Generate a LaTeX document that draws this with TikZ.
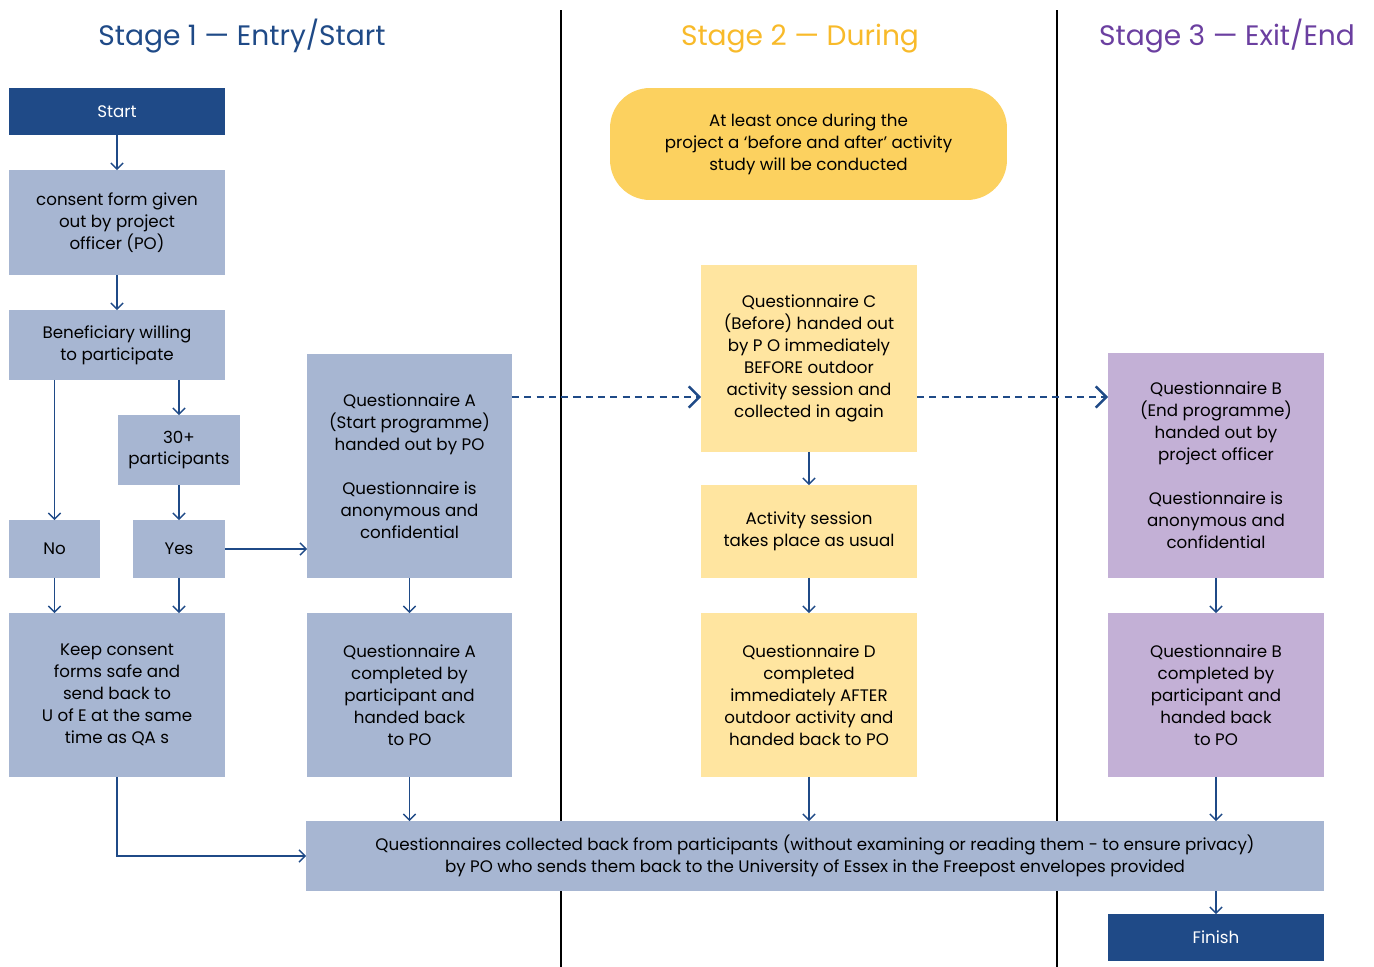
\documentclass[tikz,border=0pt]{standalone}
\usepackage{fontspec}
\setmainfont{Poppins}
\usepackage{tikz}
\usetikzlibrary{arrows.meta}
\definecolor{navy}{HTML}{1F4A87}
\definecolor{paleblue}{HTML}{A7B6D2}
\definecolor{gold}{HTML}{FCD15F}
\definecolor{paleyellow}{HTML}{FFE5A0}
\definecolor{lilac}{HTML}{C3B0D6}
\definecolor{stagetwo}{HTML}{F8BA2A}
\definecolor{stagethree}{HTML}{6B3FA0}
\begin{document}
\begin{tikzpicture}[x=0.02cm, y=-0.02cm,
    box/.style = {fill=paleblue, align=center, inner sep=2pt, outer sep=0pt,
                  font=\fontsize{9.5}{12.5}\selectfont},
    endbox/.style = {box, fill=navy, text=white},
    during/.style = {box, fill=paleyellow},
    exit/.style = {box, fill=lilac},
    stagetitle/.style = {anchor=base, font=\fontsize{16}{18}\selectfont},
    link/.style = {draw=navy, line width=0.75pt, -{Straight Barb[length=3.5pt,width=7pt]}},
    carry/.style = {draw=navy, line width=1.6pt, dash pattern=on 4pt off 3pt,
                    -{Straight Barb[length=6pt,width=12pt,line width=1.4pt]}}]
\useasboundingbox (0,0) rectangle (1374,967);
\draw[line width=1.1pt] (561,10) -- (561,967);
\draw[line width=1.1pt] (1057,10) -- (1057,967);
\node[stagetitle, text=navy] (s1) at (242,45) {Stage 1 — Entry/Start};
\node[stagetitle, text=stagetwo] (s2) at (800,45) {Stage 2 — During};
\node[stagetitle, text=stagethree] (s3) at (1227,45) {Stage 3 — Exit/End};

\node[endbox, minimum width=4.32cm, minimum height=0.94cm] (start) at (117,111.5) {Start};
\node[box, minimum width=4.32cm, minimum height=2.10cm] (consent) at (117,222.5) {consent form given\\out by project\\officer (PO)};
\node[box, minimum width=4.32cm, minimum height=1.40cm] (willing) at (117,345) {Beneficiary willing\\to participate};
\node[box, minimum width=2.44cm, minimum height=1.40cm] (thirty) at (179,450) {30+\\participants};
\node[box, minimum width=1.82cm, minimum height=1.16cm] (no) at (54.5,549) {No};
\node[box, minimum width=1.84cm, minimum height=1.16cm] (yes) at (179,549) {Yes};
\node[box, minimum width=4.32cm, minimum height=3.28cm] (keep) at (117,695) {Keep consent\\forms safe and\\send back to\\U of E at the same\\time as QA s};
\node[box, minimum width=4.10cm, minimum height=4.48cm] (qa) at (409.5,466) {Questionnaire A\\(Start programme)\\handed out by PO\\[12.5pt]Questionnaire is\\anonymous and\\confidential};
\node[box, minimum width=4.10cm, minimum height=3.28cm] (qadone) at (409.5,695) {Questionnaire A\\completed by\\participant and\\handed back\\to PO};

\node[box, fill=gold, rounded corners=0.8cm, minimum width=7.94cm, minimum height=2.24cm] (once) at (808.5,144) {At least once during the\\project a ‘before and after’ activity\\study will be conducted};
\node[during, minimum width=4.32cm, minimum height=3.74cm] (qc) at (809,358.5) {Questionnaire C\\(Before) handed out\\by P O immediately\\BEFORE outdoor\\activity session and\\collected in again};
\node[during, minimum width=4.32cm, minimum height=1.86cm] (session) at (809,531.5) {Activity session\\takes place as usual};
\node[during, minimum width=4.32cm, minimum height=3.28cm] (qd) at (809,695) {Questionnaire D\\completed\\immediately AFTER\\outdoor activity and\\handed back to PO};

\node[exit, minimum width=4.32cm, minimum height=4.50cm] (qb) at (1216,465.5) {Questionnaire B\\(End programme)\\handed out by\\project officer\\[12.5pt]Questionnaire is\\anonymous and\\confidential};
\node[exit, minimum width=4.32cm, minimum height=3.28cm] (qbdone) at (1216,695) {Questionnaire B\\completed by\\participant and\\handed back\\to PO};

\node[box, minimum width=20.36cm, minimum height=1.40cm] (collect) at (815,856) {Questionnaires collected back from participants (without examining or reading them - to ensure privacy)\\by PO who sends them back to the University of Essex in the Freepost envelopes provided};
\node[endbox, minimum width=4.32cm, minimum height=0.94cm] (finish) at (1216,937.5) {Finish};

\coordinate (dashrow) at (0,397);
\draw[link] (start) -- (consent);
\draw[link] (consent) -- (willing);
\draw[link] (willing.south -| no.north) -- (no.north);
\draw[link] (willing.south -| thirty.north) -- (thirty.north);
\draw[link] (thirty) -- (yes);
\draw[link] (no) -- (no.south |- keep.north);
\draw[link] (yes) -- (yes.south |- keep.north);
\draw[link] (yes.east) -- (yes.east -| qa.west);
\draw[link] (qa) -- (qadone);
\draw[link] (qadone) -- (qadone.south |- collect.north);
\draw[link] (keep.south) |- (collect.west);
\draw[link] (qc) -- (session);
\draw[link] (session) -- (qd);
\draw[link] (qd) -- (qd.south |- collect.north);
\draw[link] (qb) -- (qbdone);
\draw[link] (qbdone) -- (qbdone.south |- collect.north);
\draw[link] (collect.south -| finish.north) -- (finish.north);
\draw[carry] (qa.east |- dashrow) -- (qc.west |- dashrow);
\draw[carry] (qc.east |- dashrow) -- (qb.west |- dashrow);
\end{tikzpicture}
\end{document}
